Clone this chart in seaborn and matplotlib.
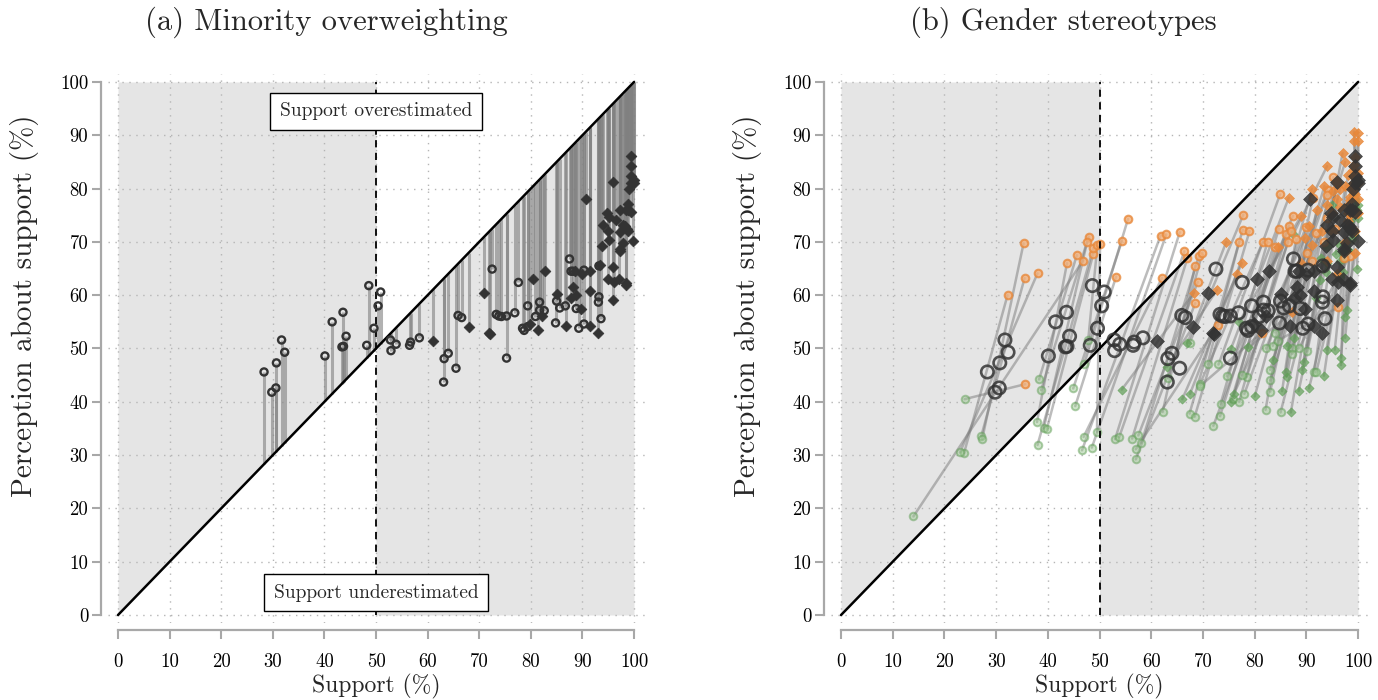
import numpy as np
import matplotlib
matplotlib.use("Agg")
import matplotlib.pyplot as plt
import seaborn as sns

# ---------------- data ----------------
# circle items: overall (black), women/men (orange), (green)
circ_x = [28.3,29.8,30.6,30.7,31.7,32.3,40.1,41.5,43.6,43.4,43.7,44.2,48.2,48.6,49.6,50.4,50.9,52.8,52.9,53.9,
          56.5,56.7,58.4,63.2,64.0,63.1,65.5,65.9,66.6,72.5,73.3,73.8,74.3,75.3,75.3,76.9,77.6,78.4,78.7,79.4,
          79.4,80.9,81.7,81.7,82.6,84.8,85.0,85.6,86.7,87.5,87.8,88.2,88.8,89.3,90.3,90.3,93.2,93.2,93.1,93.6]
circ_y = [45.6,41.8,42.6,47.3,51.6,49.3,48.6,55.0,56.8,50.3,50.4,52.3,50.6,61.8,53.8,58.0,60.6,51.6,49.6,50.8,
          50.6,51.2,52.0,48.1,49.1,43.7,46.3,56.2,55.8,64.9,56.4,56.1,56.0,56.1,48.2,56.7,62.4,53.8,53.4,54.1,
          58.0,56.0,58.7,57.2,57.1,54.8,58.9,57.6,58.0,66.8,64.5,64.5,57.5,53.8,54.6,64.7,65.5,59.7,58.7,55.6]
circ_ox = [32.2,35.6,46.8,35.5,35.3,38.0,43.7,45.6,47.9,47.6,48.8,48.8,53.2,49.6,50.1,54.3,55.5,61.8,62.1,62.9,
           65.5,66.4,67.0,69.0,69.2,68.5,73.0,68.5,69.9,77.8,77.7,79.0,77.0,81.6,81.4,82.5,84.9,84.7,86.0,84.0,
           87.4,86.6,87.0,86.5,89.9,88.0,91.3,90.1,91.9,94.1,94.0,93.9,91.1,93.5,96.1,95.2,95.9,95.5,98.4,97.2]
circ_oy = [60.0,43.3,66.5,63.2,69.7,64.1,66.0,67.5,71.0,70.0,67.8,68.9,63.5,69.5,69.6,70.1,74.3,71.2,63.3,71.4,
           71.8,68.2,67.0,62.5,67.3,58.5,54.5,65.5,68.0,75.1,72.3,72.0,70.0,70.0,53.0,70.0,78.9,72.5,71.5,69.0,
           74.9,73.0,72.0,70.0,72.8,70.5,78.3,68.0,71.7,79.7,78.8,74.4,66.5,70.0,57.7,82.1,81.3,72.5,67.3,67.0]
circ_gx = [23.8,23.9,14.0,27.1,27.3,23.0,37.9,38.3,38.7,39.2,39.8,38.0,45.3,47.8,49.5,44.9,47.0,46.6,46.9,48.5,
           53.0,53.8,56.3,57.5,58.1,57.0,57.0,62.2,63.3,67.4,67.4,68.4,70.9,69.4,69.5,73.4,73.0,73.3,72.0,75.8,
           74.6,77.0,78.5,77.5,78.0,82.1,83.0,83.0,83.0,82.2,83.5,84.0,87.3,85.0,84.5,87.3,90.1,91.5,88.5,91.9]
circ_gy = [30.4,40.5,18.5,33.5,33.0,30.5,36.2,44.2,42.2,35.0,34.9,31.9,39.2,51.6,34.4,42.5,47.0,30.9,33.4,31.4,
           33.0,33.4,33.1,33.7,32.3,29.2,31.1,38.1,44.4,51.0,37.8,37.2,47.1,43.3,43.0,39.6,47.0,37.3,35.5,40.6,
           44.8,40.0,44.7,45.0,41.5,38.5,41.9,46.0,44.0,50.0,50.5,53.0,50.0,38.0,51.5,49.0,49.5,45.5,50.0,45.5]

# diamond items
diam_x = [61.1,68.0,71.0,71.9,72.1,79.9,80.5,81.3,82.2,82.7,85.1,86.9,88.6,88.2,87.7,88.7,89.8,89.9,91.5,91.5,
          91.4,93.1,95.0,96.0,96.2,97.1,96.0,98.4,97.3,99.5,99.5,99.5,100.0,100.0,99.5,96.0,90.7,98.9,98.9,98.5,
          99.4,97.3,94.8,95.2,96.6,94.0,97.8,98.3,98.6,98.9,95.0,97.3,95.1,99.9,97.8,93.8,97.3,93.4,98.5,99.0]
diam_y = [51.5,54.1,60.5,53.0,52.8,54.6,63.1,53.5,56.1,64.5,60.2,54.3,64.5,61.5,59.5,60.1,57.4,63.9,64.5,60.8,
          54.2,53.0,63.1,65.3,62.5,63.1,59.1,62.3,68.3,86.2,84.3,82.4,81.7,81.1,81.1,81.2,78.0,77.2,76.0,76.0,
          75.7,75.9,75.5,74.6,74.1,73.2,73.2,73.0,72.5,72.1,72.1,71.8,70.4,70.2,69.7,69.2,68.7,65.7,62.0,80.0]
diam_ox = [68.3,72.7,74.5,77.5,76.5,84.5,86.6,87.3,89.7,89.0,91.1,89.0,93.5,92.0,90.5,91.0,93.0,94.0,97.0,95.0,
           94.0,96.0,98.0,99.2,98.5,99.0,97.5,99.5,99.0,99.2,100.0,99.2,100.0,99.2,100.0,97.5,94.0,99.5,98.5,99.0,
           100.0,98.0,95.9,96.5,97.5,95.2,98.5,99.5,100.0,99.8,96.0,98.0,96.5,100.0,98.5,95.0,98.0,95.0,99.5,99.5]
diam_oy = [60.5,61.0,70.0,66.0,64.0,69.1,78.3,56.8,70.8,74.9,80.0,66.0,80.5,76.0,73.0,69.5,72.0,77.0,86.6,75.5,
           66.5,64.0,75.5,82.5,77.9,76.0,70.0,72.0,80.0,90.7,90.5,89.0,89.0,84.4,83.0,85.0,84.2,82.0,80.5,83.5,
           81.0,82.5,81.3,80.0,80.5,79.5,78.5,79.0,78.0,75.5,78.0,77.0,76.5,75.5,75.0,75.5,74.0,72.0,68.0,86.0]
diam_gx = [54.3,63.0,67.0,66.0,67.5,75.4,75.4,78.8,76.0,77.0,80.0,85.3,83.5,86.2,86.0,87.7,87.0,86.2,89.1,89.5,
           88.5,90.5,93.4,93.9,95.5,96.7,96.7,97.5,97.8,99.8,99.5,99.8,100.0,100.0,99.0,95.0,87.5,98.5,99.3,98.0,
           98.8,96.6,93.7,94.0,95.7,92.8,97.0,97.2,97.2,98.0,94.0,96.5,93.7,99.8,97.1,92.6,96.6,91.8,97.5,98.5]
diam_gy = [42.3,46.5,51.0,40.5,41.5,40.0,49.9,50.2,41.5,55.0,41.0,42.0,47.8,44.7,45.5,51.9,38.0,50.5,46.0,47.5,
           42.0,42.5,44.9,49.8,49.8,48.3,46.9,52.0,57.3,82.0,78.0,76.0,74.5,77.0,79.0,77.0,71.5,72.0,71.5,68.5,
           70.5,69.5,69.7,69.0,67.7,67.0,68.0,67.0,67.0,68.5,66.0,66.5,64.3,65.0,64.4,62.9,63.4,59.4,56.0,74.0]

ticks = [0, 10, 20, 30, 40, 50, 60, 70, 80, 90, 100]
titles = ["(a) Minority overweighting", "(b) Gender stereotypes"]
xlabel = "Support (%)"
ylabel = "Perception about support (%)"
box_over = "Support overestimated"
box_under = "Support underestimated"

# ---------------- style ----------------
sns.set_theme(style="white")
plt.rcParams["font.family"] = ["cmr10"]
plt.rcParams["mathtext.fontset"] = "cm"
plt.rcParams["axes.unicode_minus"] = False
plt.rcParams["axes.formatter.use_mathtext"] = True

W, H = 1378, 700
fig = plt.figure(figsize=(W / 100, H / 100), dpi=100)

shade = "#e5e5e5"
dark = "#333333"
orange = "#e8883a"
orange_f = "#f2b07a"
green = "#5f9e55"
green_f = "#9cc792"


def setup(ax):
    ax.set_xlim(-2, 102.5)
    ax.set_ylim(-1.5, 101.5)
    ax.fill_between([0, 50], [0, 50], [100, 100], color=shade, lw=0, zorder=0)
    ax.fill_between([50, 100], [0, 0], [50, 100], color=shade, lw=0, zorder=0)
    ax.plot([0, 100], [0, 100], color="black", lw=1.8, zorder=6)
    ax.plot([50, 50], [0, 100], color="black", lw=1.3, ls=(0, (4, 3)), zorder=6)
    ax.set_xticks(ticks)
    ax.set_yticks(ticks)
    ax.set_xticklabels([str(t) for t in ticks])
    ax.set_yticklabels([str(t) for t in ticks])
    ax.grid(True, color="#b5b5b5", lw=1.0, ls=(0, (1, 4)))
    ax.set_axisbelow(False)
    for g in ax.get_xgridlines() + ax.get_ygridlines():
        g.set_zorder(1)
    for s in ["top", "right"]:
        ax.spines[s].set_visible(False)
    ax.spines["left"].set_position(("outward", 4.5))
    ax.spines["bottom"].set_position(("outward", 5))
    for s in ["left", "bottom"]:
        ax.spines[s].set_bounds(0, 100)
        ax.spines[s].set_color("#a8a8a8")
        ax.spines[s].set_linewidth(1.6)
    ax.tick_params(axis="both", which="major", direction="out", length=6.5, width=1.5,
                   color="#a8a8a8", labelsize=13.5, labelcolor="black",
                   left=True, bottom=True)
    ax.tick_params(axis="x", pad=10)
    ax.tick_params(axis="y", pad=3)
    ax.set_xlabel("")
    ax.set_ylabel("")


# ---------------- panel (a) ----------------
axA = fig.add_axes([107.7 / W, 77 / H, 539.2 / W, 549 / H])
setup(axA)
all_x = np.array(circ_x + diam_x)
all_y = np.array(circ_y + diam_y)
axA.vlines(all_x, all_y, all_x, color="#808080", alpha=0.6, lw=2.2, zorder=3)
sns.scatterplot(x=circ_x, y=circ_y, ax=axA, marker="o", s=26, color=dark,
                facecolor="none", edgecolor=dark, linewidth=1.7, zorder=7, legend=False)
sns.scatterplot(x=diam_x, y=diam_y, ax=axA, marker="D", s=30, color=dark,
                edgecolor=dark, linewidth=0.5, zorder=7, legend=False)
bbox = dict(boxstyle="square,pad=0.5", facecolor="white", edgecolor="black", lw=1.0)
axA.text(50, 94.5, box_over, ha="center", va="center", fontsize=14, bbox=bbox, zorder=10)
axA.text(50, 4.2, box_under, ha="center", va="center", fontsize=14, bbox=bbox, zorder=10)

# ---------------- panel (b) ----------------
axB = fig.add_axes([830.7 / W, 77 / H, 540.3 / W, 549 / H])
setup(axB)
for ox, oy, gx, gy in [(circ_ox, circ_oy, circ_gx, circ_gy), (diam_ox, diam_oy, diam_gx, diam_gy)]:
    for a, b, c, d in zip(gx, gy, ox, oy):
        axB.plot([a, c], [b, d], color="#7a7a7a", alpha=0.5, lw=1.8, zorder=3)

sns.scatterplot(x=circ_gx, y=circ_gy, ax=axB, marker="o", s=30, color=green,
                facecolor=green_f, edgecolor=green, linewidth=1.4, alpha=0.5, zorder=4, legend=False)
sns.scatterplot(x=diam_gx, y=diam_gy, ax=axB, marker="D", s=22, color=green,
                edgecolor=green, linewidth=0.5, alpha=0.7, zorder=4, legend=False)
sns.scatterplot(x=circ_ox, y=circ_oy, ax=axB, marker="o", s=30, color=orange,
                facecolor=orange_f, edgecolor=orange, linewidth=1.5, alpha=0.8, zorder=5, legend=False)
sns.scatterplot(x=diam_ox, y=diam_oy, ax=axB, marker="D", s=26, color=orange,
                edgecolor=orange, linewidth=0.5, alpha=0.85, zorder=5, legend=False)
sns.scatterplot(x=circ_x, y=circ_y, ax=axB, marker="o", s=80, color=dark,
                facecolor="none", edgecolor=dark, linewidth=1.9, alpha=0.85, zorder=7, legend=False)
sns.scatterplot(x=diam_x, y=diam_y, ax=axB, marker="D", s=50, color=dark,
                edgecolor=dark, linewidth=0.5, alpha=0.85, zorder=7, legend=False)

# ---------------- titles and labels ----------------
fig.text(326 / W, 1 - 22 / H, titles[0], ha="center", va="center", fontsize=22)
fig.text(1063 / W, 1 - 22 / H, titles[1], ha="center", va="center", fontsize=22)
for xc in (376, 1099):
    fig.text(xc / W, 1 - 686 / H, xlabel, ha="center", va="center", fontsize=17)
for xc in (25, 748):
    fig.text(xc / W, 1 - 306 / H, ylabel, ha="center", va="center", rotation=90, fontsize=21)

fig.savefig("out.png", dpi=100)
